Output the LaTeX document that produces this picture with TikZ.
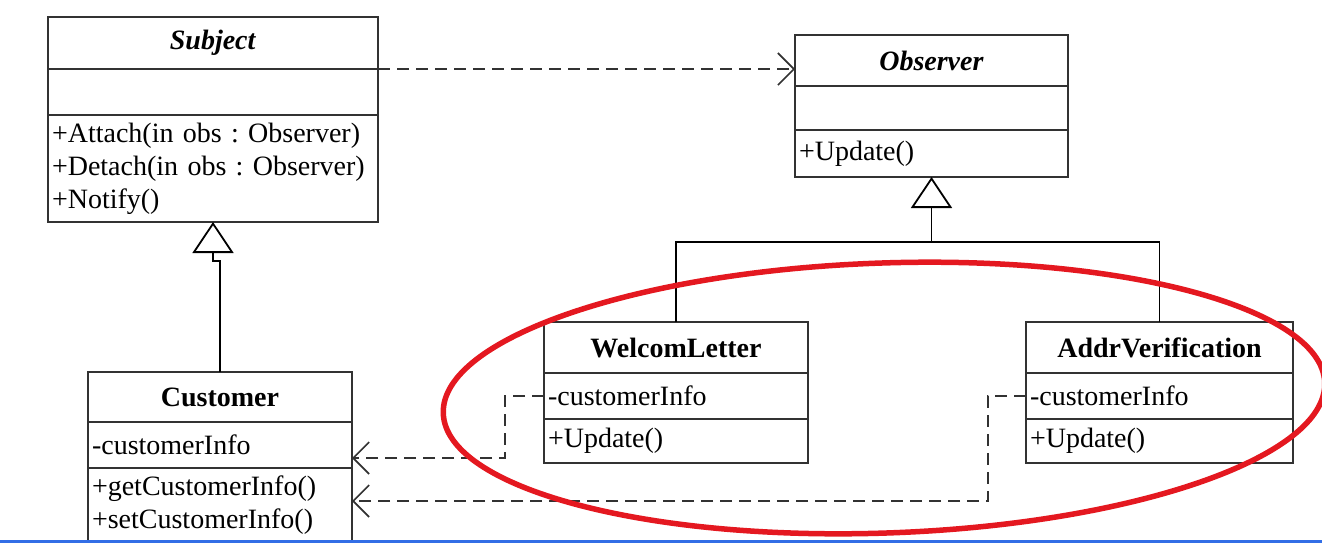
\documentclass[tikz,border=0pt]{standalone}
\usepackage{fontspec}
\setmainfont{Liberation Serif}
\usetikzlibrary{positioning, arrows.meta}

\definecolor{umlline}{RGB}{50,50,50}
\definecolor{markred}{RGB}{228,24,32}
\definecolor{slideblue}{RGB}{50,110,230}

\newcommand{\umlfont}{\fontsize{28}{33}\selectfont\frenchspacing}

\begin{document}
\begin{tikzpicture}[x=1pt, y=-1pt,
    every node/.style={font=\umlfont, outer sep=0pt},
    cls/.style={draw=umlline, line width=2.2pt, inner xsep=4pt, inner ysep=0pt, text width=#1, align=left},
    head/.style={cls=#1, align=center, anchor=north, minimum height=51pt},
    tree/.style={draw=black, line width=1.8pt},
    inherit/.style={tree, -{Triangle[open, length=31pt, width=41pt, fill=white, line width=1.8pt]}},
    dep/.style={draw=umlline, line width=2.4pt, dash pattern=on 12pt off 7pt, -{Straight Barb[length=16pt, width=32pt, line width=1.6pt]}}]

    \useasboundingbox (0,0) rectangle (1322,542);
    \clip (0,0) rectangle (1322,542);

    % Subject
    \node[head=322, minimum height=52pt] (subjT) at (213,17) {\textbf{\textit{Subject}}};
    \node[cls=322, minimum height=46pt, below=0pt of subjT] (subjA) {};
    \node[cls=322, minimum height=107pt, below=0pt of subjA] (subjM) {+Attach(in obs : Observer)\\+Detach(in obs : Observer)\\+Notify()};

    % Observer
    \node[head=265] (obsT) at (931.5,35) {\textbf{\textit{Observer}}};
    \node[cls=265, minimum height=44pt, below=0pt of obsT] (obsA) {};
    \node[cls=265, minimum height=47pt, below=0pt of obsA] (obsM) {+Update()};

    % Customer
    \node[head=256, minimum height=50pt] (custT) at (220,372) {\textbf{Customer}};
    \node[cls=256, minimum height=46pt, below=0pt of custT] (custA) {-customerInfo};
    \node[cls=256, minimum height=74pt, below=0pt of custA] (custM) {+getCustomerInfo()\\+setCustomerInfo()};

    % the two observers
    \node[head=256] (welT) at (676,322) {\textbf{WelcomLetter}};
    \node[cls=256, minimum height=46pt, below=0pt of welT] (welA) {-customerInfo};
    \node[cls=256, minimum height=44pt, below=0pt of welA] (welM) {+Update()};

    \node[head=259] (addrT) at (1159.5,322) {\textbf{AddrVerification}};
    \node[cls=259, minimum height=46pt, below=0pt of addrT] (addrA) {-customerInfo};
    \node[cls=259, minimum height=44pt, below=0pt of addrA] (addrM) {+Update()};

    % generalisation
    \draw[inherit] (custT.north) -- ++(0,-111) -| (subjM.south);
    \coordinate (fork) at ([yshift=-65pt]obsM.south);
    \draw[tree] (welT.north) |- (fork) -| (addrT.north);
    \draw[inherit] (fork) -- (obsM.south);

    % dependencies
    \draw[dep] (subjT.south east) -- (subjT.south east -| obsT.west);
    \draw[dep] (welA.west) -- ++(-39,0) |- ([yshift=-13pt]custA.east);
    \draw[dep] (addrA.west) -- ++(-38,0) |- ([yshift=-33pt]custA.south east);

    % highlight
    \draw[markred, line width=5.5pt, rotate around={2:(884,398)}] (884,398) ellipse [x radius=441, y radius=135];
    \draw[slideblue, line width=3pt] (0,541) -- (1322,541);

\end{tikzpicture}
\end{document}
